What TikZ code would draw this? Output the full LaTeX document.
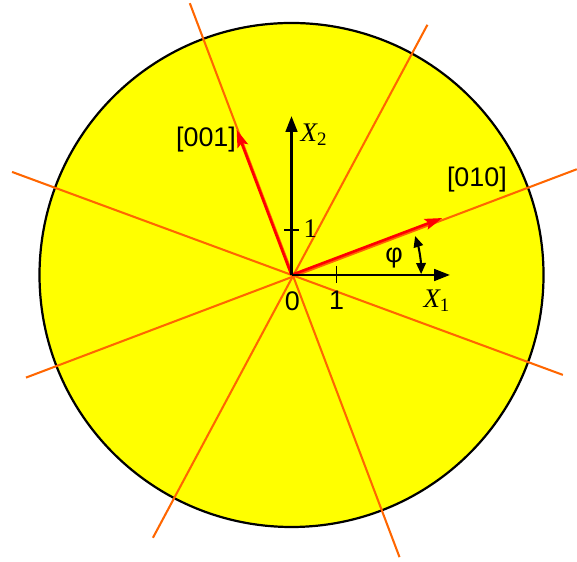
\documentclass[tikz,border=0pt]{standalone}
\usepackage{fontspec}
\setmainfont{Liberation Serif}
\setsansfont{Liberation Sans}
\usetikzlibrary{arrows.meta}

\definecolor{cutorange}{RGB}{255,102,0}
\definecolor{discyellow}{RGB}{255,255,0}

\begin{document}
\begin{tikzpicture}[
    >={Triangle[length=10pt,width=7.5pt]},
    every node/.style={font=\fontsize{17}{19}\selectfont},
    trace/.style={draw=cutorange, line width=1.3pt},
    axis/.style={->, line width=1.3pt},
    dirvec/.style={-{Stealth[length=11pt,width=7pt,inset=2pt]}, red, line width=1.7pt},
    tick/.style={line width=1.2pt},
    lbl/.style={font=\sffamily\fontsize{17}{19}\selectfont, inner sep=1pt},
    axlbl/.style={font=\fontsize{17}{19}\selectfont\itshape, inner sep=1pt}
  ]
    \useasboundingbox (-6.478,-6.356) rectangle (6.344,6.111);

    % the disc
    \coordinate (O) at (0,0);
    \draw[fill=discyellow, line width=1.4pt] (O) circle (5.6);

    % trace lines through the centre
    \coordinate (a1) at (-5.90,-2.28);  \coordinate (a2) at (6.34,2.35);
    \coordinate (b1) at (-2.26,6.04);   \coordinate (b2) at (2.40,-6.27);
    \coordinate (c1) at (3.02,5.56);    \coordinate (c2) at (-3.08,-5.84);
    \coordinate (d1) at (-6.21,2.29);   \coordinate (d2) at (6.03,-2.22);
    \draw[trace] (a1) -- (a2);
    \draw[trace] (b1) -- (b2);
    \draw[trace] (c1) -- (c2);
    \draw[trace] (d1) -- (d2);

    % crystal directions
    \coordinate (v010) at (20.7:3.58);
    \coordinate (v001) at (110.7:3.45);
    \draw[dirvec] (O) -- (v010);
    \draw[dirvec] (O) -- (v001);
    \node[lbl] (n010) at (4.12,2.11) {[010]};
    \node[lbl] (n001) at (-1.90,3.00) {[001]};

    % axes
    \coordinate (x1end) at (3.52,0);
    \coordinate (x2end) at (0,3.53);
    \draw[axis] (O) -- (x1end);
    \draw[axis] (O) -- (x2end);
    \node[axlbl] (nx1) at (3.23,-0.57) {X\textsubscript{\upshape\fontsize{12}{13}\selectfont 1}};
    \node[axlbl] (nx2) at (0.50,3.11) {X\textsubscript{\upshape\fontsize{12}{13}\selectfont 2}};

    % unit ticks
    \draw[tick] (1,0.2) -- (1,-0.17);
    \draw[tick] (-0.16,1) -- (0.16,1);
    \node[lbl] (n0) at (0.02,-0.59) {0};
    \node[lbl] (n1x) at (1.0,-0.57) {1};
    \node[inner sep=1pt] (n1y) at (0.42,1.03) {1};

    % angle phi
    \draw[{Triangle[length=7pt,width=6pt]}-{Triangle[length=7pt,width=6pt]}, line width=1.3pt]
      (0.4:2.88) arc[start angle=0.4, end angle=17.5, radius=2.88];
    \node[inner sep=1pt, font=\sffamily\fontsize{17}{19}\selectfont] (nphi) at (2.28,0.37) {φ};

  \end{tikzpicture}
\end{document}
